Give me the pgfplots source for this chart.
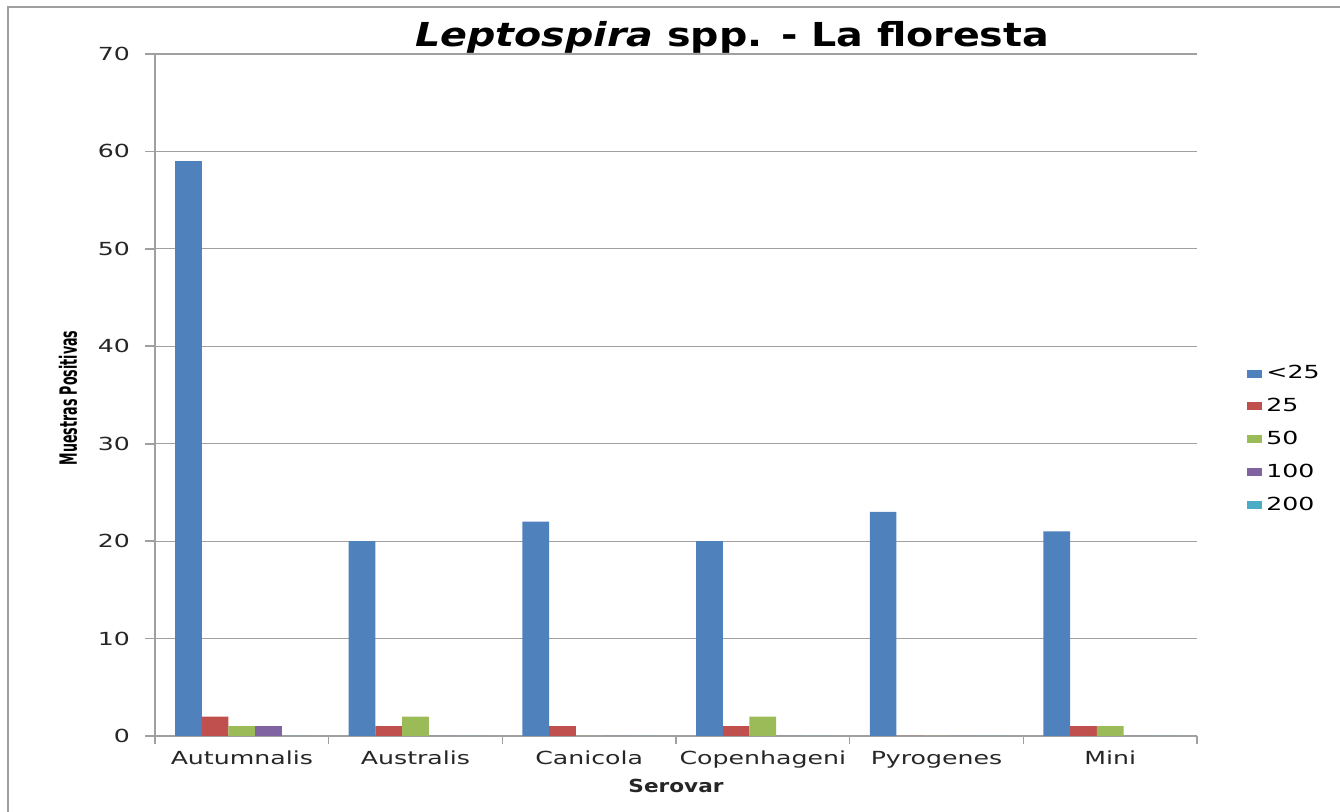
\documentclass[border=0pt]{standalone}
\usepackage{pgfplots}
\pgfplotsset{compat=1.18}
\usepackage{fontspec}
\setmainfont{DejaVu Sans}
\newfontfamily\wfont[FakeStretch=1.4]{DejaVu Sans}
\newfontfamily\tfont[FakeStretch=1.2]{DejaVu Sans}
\definecolor{cA}{HTML}{4F81BD}
\definecolor{cB}{HTML}{C0504D}
\definecolor{cC}{HTML}{9BBB59}
\definecolor{cD}{HTML}{8064A2}
\definecolor{cE}{HTML}{4BACC6}
\definecolor{axgray}{HTML}{A0A0A0}
\begin{document}
\begin{tikzpicture}
\useasboundingbox (-77.5pt,-38pt) rectangle (592.5pt,368pt);
\draw[gray!75, line width=1.2pt] (-73.5pt,-38pt) -- (-73.5pt,364.5pt) -- (592.5pt,364.5pt);
\begin{axis}[
  at={(0pt,0pt)}, anchor=south west,
  scale only axis, width=521pt, height=341pt,
  xmin=-0.5, xmax=5.5, ymin=0, ymax=70,
  ybar=0pt, bar width=13.35pt,
  axis lines*=left,
  axis line style={axgray, line width=0.8pt, -},
  xtick={0,...,5},
  xticklabels={Autumnalis,Australis,Canicola,Copenhageni,Pyrogenes,Mini},
  minor xtick={-0.5,0.5,1.5,2.5,3.5,4.5,5.5},
  major x tick style={draw=none},
  minor x tick style={axgray, line width=0.8pt},
  minor tick length=4pt,
  ytick={0,10,...,70},
  major y tick style={axgray, line width=0.8pt},
  major tick length=5pt,
  tick align=outside,
  ymajorgrids, grid style={axgray, line width=0.6pt},
  /pgf/number format/assume math mode=true,
  ticklabel style={font=\wfont\fontsize{9}{10}\selectfont, text=black!85},
  xticklabel style={yshift=1pt},
  yticklabel style={xshift=-4pt},
  xlabel={\tfont\bfseries\fontsize{9}{10}\selectfont Serovar},
  xlabel style={at={(axis description cs:0.5,-0.0733)}, anchor=center, text=black!85},
  ylabel={\scalebox{0.9}[1.7]{\bfseries\fontsize{7}{8}\selectfont Muestras Positivas}},
  ylabel style={at={(axis description cs:-0.0835,0.4956)}, anchor=center},
  title={\tfont\bfseries\fontsize{16.5}{18}\selectfont \textit{Leptospira} spp. - La floresta},
  title style={at={(axis description cs:0.554,1.0117)}, anchor=base, yshift=0pt},
  every axis title shift=0pt,
  legend image code/.code={\draw[#1, draw=none] (0pt,-2pt) rectangle (7.5pt,2pt);},
  legend style={at={(axis description cs:1.048,0.435)}, anchor=west, draw=none, fill=none,
    inner sep=0pt, row sep=4.25pt, font=\wfont\fontsize{9}{10}\selectfont,
    /tikz/every even column/.append style={column sep=0pt}},
  legend cell align=left,
]
\addplot[fill=cA, draw=none] coordinates {(0,59) (1,20) (2,22) (3,20) (4,23) (5,21)};
\addplot[fill=cB, draw=none] coordinates {(0,2) (1,1) (2,1) (3,1) (4,0) (5,1)};
\addplot[fill=cC, draw=none] coordinates {(0,1) (1,2) (2,0) (3,2) (4,0) (5,1)};
\addplot[fill=cD, draw=none] coordinates {(0,1) (1,0) (2,0) (3,0) (4,0) (5,0)};
\addplot[fill=cE, draw=none] coordinates {(0,0) (1,0) (2,0) (3,0) (4,0) (5,0)};
\legend{<25,25,50,100,200}
\end{axis}
\end{tikzpicture}
\end{document}
